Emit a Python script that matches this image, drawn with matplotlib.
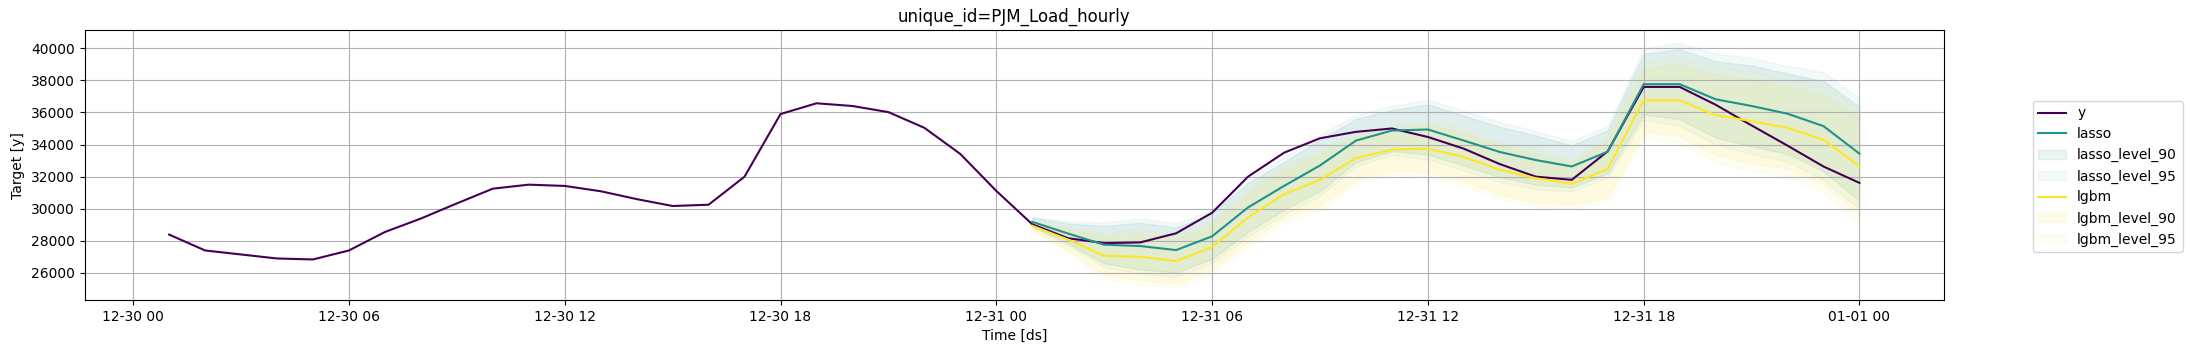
import matplotlib
matplotlib.use("Agg")
import matplotlib.pyplot as plt
import matplotlib.dates as mdates
import numpy as np
import pandas as pd

# history + actuals, hourly from 12-30 01:00 to 01-01 00:00
ds = pd.date_range("2001-12-30 01:00", "2002-01-01 00:00", freq="h")
y = [28390, 27400, 27150, 26900, 26840, 27400, 28550, 29390, 30330, 31250,
     31500, 31420, 31090, 30600, 30170, 30250, 32000, 35900, 36570, 36400,
     36020, 35040, 33410, 31110, 29030, 28160, 27860, 27900, 28470, 29750,
     32000, 33490, 34390, 34790, 35000, 34470, 33740, 32780, 32000, 31800,
     33580, 37590, 37590, 36480, 35190, 33930, 32630, 31610]

# forecast horizon: last 24 hours
fc_ds = ds[24:]

lasso = [29182, 28449, 27759, 27675, 27424, 28282, 30082, 31421, 32697, 34246,
         34873, 34936, 34246, 33534, 33032, 32634, 33555, 37761, 37761, 36819,
         36401, 35920, 35145, 33430]
lasso_lo_90 = [28915, 27818, 26591, 26226, 26016, 26881, 28555, 29927, 31098, 32899,
               33590, 33370, 32689, 31967, 31505, 31319, 32215, 35880, 35586, 34441,
               33882, 33417, 32327, 30515]
lasso_hi_90 = [29449, 29080, 28927, 29124, 28832, 29683, 31609, 32915, 34296, 35593,
               36156, 36502, 35803, 35101, 34559, 33949, 34895, 39642, 39936, 39197,
               38920, 38423, 37963, 36345]
lasso_lo_95 = [28864, 27698, 26368, 25950, 25748, 26614, 28264, 29642, 30794, 32642,
               33346, 33072, 32392, 31668, 31214, 31068, 31960, 35522, 35172, 33988,
               33402, 32940, 31790, 29960]
lasso_hi_95 = [29500, 29200, 29150, 29400, 29100, 29950, 31900, 33200, 34600, 35850,
               36400, 36800, 36100, 35400, 34850, 34200, 35150, 40000, 40350, 39650,
               39400, 38900, 38500, 36900]

lgbm = [28931, 28073, 27068, 27006, 26734, 27612, 29454, 30919, 31797, 33157,
        33681, 33744, 33220, 32425, 31902, 31546, 32488, 36757, 36757, 35836,
        35459, 35041, 34309, 32634]
lgbm_lo_90 = [28679, 27418, 25875, 25561, 25340, 26218, 27942, 29424, 30201, 31796,
              32387, 32291, 31708, 30896, 30390, 30269, 30724, 34783, 34531, 33333,
              32830, 32504, 31503, 29660]
lgbm_hi_90 = [29183, 28728, 28261, 28451, 28128, 29006, 30966, 32414, 33393, 34518,
              34975, 35197, 34732, 33954, 33414, 32823, 34252, 38731, 38983, 38339,
              38088, 37578, 37115, 35608]
lgbm_lo_95 = [28631, 27293, 25648, 25286, 25074, 25952, 27654, 29139, 29897, 31537,
              32141, 32014, 31420, 30605, 30102, 30026, 30388, 34407, 34107, 32856,
              32329, 32021, 30969, 29094]
lgbm_hi_95 = [29231, 28853, 28488, 28726, 28394, 29272, 31254, 32699, 33697, 34777,
              35221, 35474, 35020, 34245, 33702, 33066, 34588, 39107, 39407, 38816,
              38589, 38061, 37649, 36174]

colors = plt.cm.viridis(np.linspace(0, 1, 3))

fig = plt.figure(figsize=(21.86, 3.53), dpi=100)
ax = fig.add_axes([0.0387, 0.150, 0.8506, 0.764])

ax.plot(ds, y, label="y", color=colors[0])

models = {
    "lasso": (lasso, {90: (lasso_lo_90, lasso_hi_90), 95: (lasso_lo_95, lasso_hi_95)}),
    "lgbm": (lgbm, {90: (lgbm_lo_90, lgbm_hi_90), 95: (lgbm_lo_95, lgbm_hi_95)}),
}
for (name, (mean, levels)), color in zip(models.items(), colors[1:]):
    ax.plot(fc_ds, mean, label=name, color=color)
    for level, (lo, hi) in levels.items():
        ax.fill_between(fc_ds, lo, hi, alpha=1 - level / 100, color=color,
                        label=f"{name}_level_{level}")

ax.set_title("unique_id=PJM_Load_hourly")
ax.set_xlabel("Time [ds]")
ax.set_ylabel("Target [y]")
ax.xaxis.set_major_locator(mdates.HourLocator(byhour=[0, 6, 12, 18]))
ax.xaxis.set_major_formatter(mdates.DateFormatter("%m-%d %H"))
ax.grid()

handles, labels = ax.get_legend_handles_labels()
fig.legend(handles, labels, loc="center left", bbox_to_anchor=(0.9267, 0.5))

fig.savefig("out.png", dpi=100)
